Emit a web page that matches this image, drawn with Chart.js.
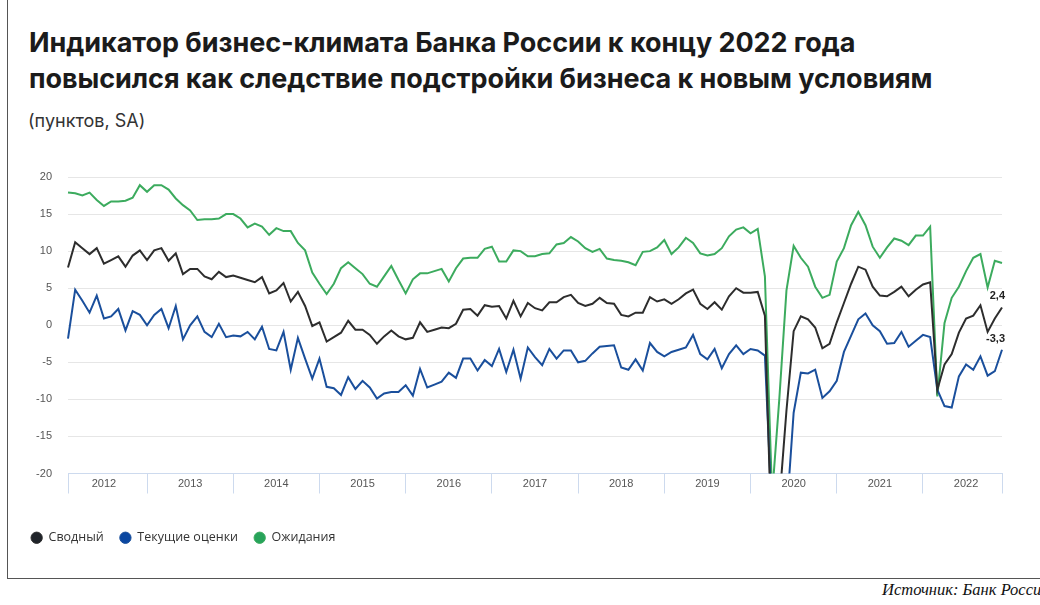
<!DOCTYPE html>
<html lang="ru">
<head>
<meta charset="utf-8">
<title>Индикатор бизнес-климата</title>
<script src="https://cdn.jsdelivr.net/npm/chart.js@4.4.1/dist/chart.umd.min.js"></script>
<style>
  html, body { margin: 0; padding: 0; background: #fff; }
  body { width: 1040px; height: 605px; position: relative; overflow: hidden; }
  .frame-v { position: absolute; left: 7px; top: 0; width: 1px; height: 578px; background: #555; }
  .frame-h { position: absolute; left: 7px; top: 578px; width: 1040px; height: 1px; background: #555; }
  h1 {
    position: absolute; left: 29px; top: 24.5px; margin: 0;
    font-family: Inter, "Noto Sans", sans-serif; font-weight: 700;
    font-size: 27px; line-height: 36px; color: #1b1b1b; letter-spacing: -0.05px;
    white-space: nowrap;
  }
  .sub {
    position: absolute; left: 28px; top: 110px;
    font-family: Inter, "Noto Sans", sans-serif; font-size: 18px; color: #333;
  }
  .src {
    position: absolute; left: 882px; top: 580px; white-space: nowrap;
    font-family: "Liberation Serif", "DejaVu Serif", serif; font-style: italic;
    font-size: 16.5px; color: #111;
  }
  #chart { position: absolute; left: 0; top: 160px; }
</style>
</head>
<body>
<div class="frame-v"></div>
<div class="frame-h"></div>
<h1>Индикатор бизнес-климата Банка России к концу 2022 года<br>повысился как следствие подстройки бизнеса к новым условиям</h1>
<div class="sub">(пунктов, SA)</div>
<canvas id="chart" width="1040" height="400"></canvas>
<div class="src">Источник: Банк России</div>

<script>
// === Data (monthly, Feb 2012 - Dec 2022) ===
const years = ['2012', '2013', '2014', '2015', '2016', '2017', '2018', '2019', '2020', '2021', '2022'];
const months = [];
years.forEach(y => {
  for (let m = 1; m <= 12; m++) {
    if (y === '2012' && m < 2) continue;
    months.push(y + '-' + String(m).padStart(2, '0'));
  }
});

const composite = [
  7.8, 11.2, 10.4, 9.6, 10.4, 8.3, 8.8, 9.3, 7.9, 9.4, 10.1,
  8.8, 10.1, 10.4, 8.7, 9.7, 6.9, 7.6, 7.6, 6.6, 6.2, 7.2, 6.5,
  6.7, 6.4, 6.1, 5.8, 6.5, 4.3, 4.7, 5.7, 3.2, 4.5, 2.6, -0.1,
  0.4, -2.2, -1.6, -1.0, 0.6, -0.6, -0.6, -1.3, -2.5, -1.5, -0.7, -1.5,
  -1.9, -1.7, 0.4, -0.9, -0.6, -0.3, -0.4, 0.2, 2.1, 2.2, 1.3, 2.7,
  2.5, 2.6, 0.9, 3.3, 1.2, 3.0, 2.3, 2.0, 3.1, 3.1, 3.8, 4.1,
  3.0, 2.6, 2.9, 3.7, 3.0, 2.9, 1.4, 1.2, 1.7, 1.7, 3.8, 3.2,
  3.5, 2.9, 3.5, 4.3, 4.8, 2.9, 2.2, 3.1, 2.1, 3.9, 5.0, 4.4,
  4.4, 4.5, 1.3, -32, -24, -11.5, -0.8, 1.2, 0.8, -0.3, -3.1, -2.5,
  0.4, 3.0, 5.6, 7.9, 7.5, 5.2, 4.0, 3.9, 4.5, 5.2, 3.9, 4.8,
  5.5, 5.8, -8.7, -5.3, -3.9, -1.0, 0.9, 1.3, 2.7, -0.9, 0.9, 2.4
];

const current = [
  -1.8, 4.8, 3.3, 1.7, 4.0, 0.9, 1.2, 2.2, -0.7, 1.9, 1.4,
  0.0, 1.4, 2.2, -0.4, 2.6, -1.9, 0.0, 1.2, -0.9, -1.6, 0.2, -1.6,
  -1.4, -1.5, -0.9, -1.9, -0.2, -3.2, -3.4, -0.9, -6.0, -1.7, -4.5, -7.2,
  -4.5, -8.3, -8.5, -9.4, -7.0, -8.6, -7.5, -8.4, -9.9, -9.2, -9.0, -9.0,
  -8.1, -9.5, -5.9, -8.4, -8.0, -7.6, -6.4, -7.1, -4.5, -4.5, -6.1, -4.7,
  -5.5, -3.2, -6.3, -3.3, -7.2, -3.0, -4.3, -5.4, -3.2, -4.5, -3.4, -3.4,
  -5.0, -4.8, -3.8, -2.9, -2.8, -2.7, -5.7, -6.0, -4.6, -6.1, -2.4, -3.6,
  -4.2, -3.6, -3.3, -3.0, -1.3, -3.9, -4.6, -3.2, -5.8, -3.9, -2.7, -3.9,
  -3.2, -3.4, -4.1, -26, -30, -25.8, -11.8, -6.4, -6.5, -6.0, -9.8, -8.9,
  -7.5, -3.6, -1.4, 0.8, 1.6, 0.0, -0.8, -2.5, -2.4, -0.9, -2.9, -2.1,
  -1.3, -1.6, -8.7, -10.9, -11.1, -6.9, -5.3, -6.0, -4.2, -6.8, -6.2, -3.3
];

const expectations = [
  17.9, 17.8, 17.5, 17.9, 16.9, 16.1, 16.7, 16.7, 16.8, 17.2, 18.9,
  18.0, 18.9, 18.9, 18.3, 17.1, 16.2, 15.5, 14.2, 14.3, 14.3, 14.4, 15.0,
  15.0, 14.4, 13.2, 13.7, 13.3, 12.2, 13.1, 12.7, 12.7, 11.1, 10.1, 7.1,
  5.6, 4.2, 5.6, 7.7, 8.5, 7.7, 6.9, 5.6, 5.2, 6.6, 8.0, 6.1,
  4.3, 6.2, 7.0, 7.0, 7.3, 7.6, 5.9, 7.7, 9.0, 9.1, 9.1, 10.3,
  10.6, 8.6, 8.6, 10.1, 10.0, 9.3, 9.3, 9.6, 9.7, 10.9, 11.1, 11.9,
  11.3, 10.4, 9.9, 10.3, 9.0, 8.8, 8.7, 8.5, 8.1, 9.9, 10.0, 10.5,
  11.5, 9.6, 10.5, 11.8, 11.1, 9.7, 9.4, 9.6, 10.4, 12.0, 12.9, 13.2,
  12.4, 13.0, 6.6, -23, -10, 4.7, 10.7, 9.1, 7.9, 5.2, 3.7, 4.1,
  8.6, 10.4, 13.5, 15.3, 13.5, 10.6, 9.1, 10.5, 11.7, 11.4, 10.8, 12.1,
  12.1, 13.3, -9.6, 0.3, 3.7, 5.2, 7.3, 9.1, 9.6, 5.1, 8.7, 8.4
];

const yTicks = [-20, -15, -10, -5, 0, 5, 10, 15, 20];

const axisBlue = '#cddaee';
const isBoundary = i => i === 0 || i === months.length - 1 || months[i].endsWith('-01');

// === last value labels ===
const lastLabels = {
  id: 'lastLabels',
  afterDatasetsDraw(chart) {
    const ctx = chart.ctx;
    ctx.save();
    ctx.font = 'bold 11px "Liberation Sans", Arial, sans-serif';
    ctx.fillStyle = '#222';
    ctx.textAlign = 'right';
    ctx.textBaseline = 'middle';
    [0, 1].forEach(di => {
      const meta = chart.getDatasetMeta(di);
      const pt = meta.data[meta.data.length - 1];
      const v = chart.data.datasets[di].data[meta.data.length - 1];
      ctx.fillText(String(v).replace('.', ','), pt.x + 3, pt.y - 11);
    });
    ctx.restore();
  }
};

new Chart(document.getElementById('chart'), {
  type: 'line',
  data: {
    labels: months,
    datasets: [
      { label: 'Сводный', data: composite, borderColor: '#2d2d2d', backgroundColor: '#1f2329' },
      { label: 'Текущие оценки', data: current, borderColor: '#1a4f9c', backgroundColor: '#0b47a1' },
      { label: 'Ожидания', data: expectations, borderColor: '#3cab5e', backgroundColor: '#27a35a' }
    ]
  },
  options: {
    responsive: false,
    animation: false,
    layout: { padding: { top: 17, left: 15, right: 38, bottom: 6 } },
    elements: {
      line: { borderWidth: 2, tension: 0 },
      point: { radius: 0, hoverRadius: 0 }
    },
    plugins: {
      tooltip: { enabled: false },
      legend: {
        position: 'bottom',
        align: 'start',
        labels: {
          usePointStyle: true,
          pointStyle: 'circle',
          boxWidth: 8,
          boxHeight: 8,
          pointStyleWidth: 11.3,
          padding: 16,
          color: '#333',
          font: { family: '"Open Sans", "Noto Sans", sans-serif', size: 12.5 }
        }
      }
    },
    scales: {
      x: {
        type: 'category',
        offset: false,
        grid: {
          drawOnChartArea: false,
          drawTicks: true,
          tickLength: 20,
          color: c => isBoundary(c.index) ? axisBlue : 'rgba(0,0,0,0)'
        },
        border: { display: true, color: axisBlue },
        ticks: {
          autoSkip: false,
          maxRotation: 0,
          minRotation: 0,
          padding: -16,
          color: '#555',
          font: { family: '"Liberation Sans", Arial, sans-serif', size: 11 },
          callback: (v, i) => months[i].endsWith('-07') ? months[i].slice(0, 4) : ''
        },
        afterFit: s => { s.height = 42; }
      },
      y: {
        min: -20,
        max: 20,
        afterBuildTicks: s => { s.ticks = yTicks.map(v => ({ value: v })); },
        grid: { color: '#e6e6e6', drawTicks: true, tickLength: 16, tickColor: 'rgba(0,0,0,0)' },
        border: { display: false },
        ticks: {
          padding: 0,
          color: '#555',
          font: { family: '"Liberation Sans", Arial, sans-serif', size: 11 }
        },
        afterFit: s => { s.width = 53; }
      }
    }
  },
  plugins: [lastLabels]
});
</script>
</body>
</html>
